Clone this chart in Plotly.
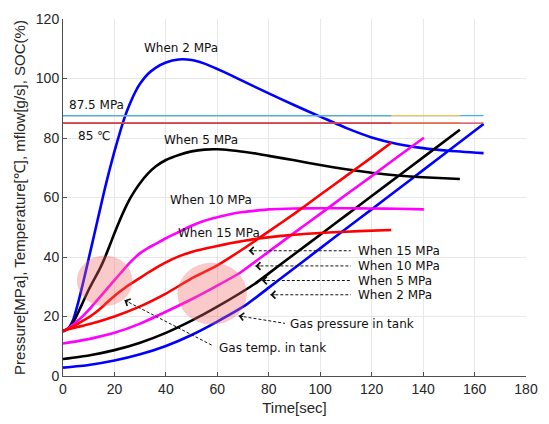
import plotly.graph_objects as go

# ---------------- data ----------------
# Gas pressure in tank [MPa]
t_p2 = [0, 10, 20, 30, 40, 50, 60, 71, 80, 90, 100, 110, 120, 130, 140, 150, 163.5]
p_2 = [2.8, 3.7, 5.2, 7.3, 10.1, 13.8, 18.3, 23.8, 29.7, 36.3, 42.9, 49.5, 56.0, 62.6, 69.2, 75.8, 84.7]

t_p5 = [0, 10, 20, 30, 40, 50, 60, 74.6, 80, 90, 100, 110, 120, 130, 140, 154.3]
p_5 = [5.7, 6.9, 8.7, 11.2, 14.5, 18.6, 23.3, 31.0, 34.5, 41.0, 47.5, 54.0, 60.5, 67.0, 73.5, 82.8]

t_p10 = [0, 10, 20, 30, 40, 50, 60, 69, 80, 90, 100, 110, 120, 130, 140.3]
p_10 = [10.9, 12.4, 14.5, 17.6, 21.6, 25.8, 30.4, 34.8, 41.8, 48.2, 54.5, 60.9, 67.2, 73.6, 80.1]

t_p15 = [0, 10, 20, 30, 40, 50, 60, 70, 80, 90, 100, 110, 120, 127.6]
p_15 = [15.3, 17.4, 20.0, 23.4, 27.7, 32.8, 37.2, 42.7, 48.6, 54.6, 60.9, 67.2, 73.5, 78.4]

# Gas temperature in tank [C]
t_T2 = [0, 2, 4, 6, 8, 10, 12, 14, 16, 18, 20, 22, 24, 26, 28, 30, 33, 36, 40, 45, 50, 55, 60, 65, 70,
        80, 90, 100, 110, 120, 130, 140, 150, 163.5]
T_2 = [15, 16, 19, 25, 32, 39.5, 47, 54.5, 62, 69, 75.5, 81.5, 87, 91.5, 95.3, 98.3, 101.5, 103.6, 105.4,
       106.4, 106.2, 105.0, 103.2, 101.2, 99.1, 95.0, 91.0, 87.2, 83.4, 80.2, 78.0, 76.6, 75.7, 74.9]

t_T5 = [0, 2, 4, 6, 8, 10, 12, 14, 16, 18, 20, 22, 24, 26, 28, 30, 33, 36, 40, 45, 50, 55, 60, 65, 70,
        75, 80, 90, 100, 110, 120, 130, 140, 154.3]
T_5 = [15, 16, 18, 21.5, 25.3, 29, 32.3, 35.5, 39.2, 43.5, 48, 52.2, 56.1, 59.5, 62.4, 64.9, 68.0, 70.4,
       72.6, 74.3, 75.5, 76.1, 76.2, 75.9, 75.4, 74.8, 74.0, 72.5, 70.9, 69.5, 68.3, 67.4, 66.8, 66.2]

t_T10 = [0, 2, 4, 6, 8, 10, 12, 14, 16, 18, 20, 22, 24, 26, 28, 30, 33, 36, 40, 45, 50, 55, 60, 65, 70,
         75, 80, 90, 100, 110, 120, 130, 140.3]
T_10 = [15, 16, 17.3, 18.8, 20.4, 22.2, 24.2, 26.2, 28.2, 30.2, 32.2, 34.2, 36.2, 38.1, 39.8, 41.3, 43.0,
        44.4, 46.3, 48.4, 50.5, 52.2, 53.4, 54.4, 55.1, 55.6, 56.0, 56.3, 56.4, 56.4, 56.3, 56.2, 56.0]

t_T15 = [0, 2, 4, 6, 8, 10, 12, 14, 16, 18, 20, 22, 24, 26, 28, 30, 33, 36, 40, 45, 50, 55, 60, 65, 70,
         76, 85, 95, 105, 115, 127.6]
T_15 = [15, 15.8, 16.7, 17.7, 18.7, 19.7, 20.9, 22.3, 23.8, 25.4, 26.9, 28.3, 29.6, 30.8, 31.9, 33, 34.7,
        36.3, 38.2, 40.2, 41.7, 42.8, 43.7, 44.6, 45.4, 46.2, 47.1, 47.8, 48.3, 48.7, 49.1]

# Limit lines
limit_pressure = 87.5
limit_temp = 85
case_end_times = [163.5, 154.3, 127.6]

x_ticks = [0, 20, 40, 60, 80, 100, 120, 140, 160, 180]
y_ticks = [0, 20, 40, 60, 80, 100, 120]

# ---------------- figure ----------------
fig = go.Figure()

LW = 2.6
for tt, yy, col in [
    (t_T2, T_2, "#0000FF"), (t_p2, p_2, "#0000FF"),
    (t_T5, T_5, "#000000"), (t_p5, p_5, "#000000"),
    (t_T10, T_10, "#FF00FF"), (t_p10, p_10, "#FF00FF"),
    (t_T15, T_15, "#FF0000"), (t_p15, p_15, "#FF0000"),
]:
    fig.add_trace(go.Scatter(x=tt, y=yy, mode="lines",
                             line=dict(color=col, width=LW, shape="spline", smoothing=0.5),
                             showlegend=False, hoverinfo="skip"))

# limit lines (drawn per case, later ones on top)
lim_cols_p = ["#4DAEE8", "#F5C255", "#4DAEE8"]
lim_cols_t = ["#C8374F", "#E8733A", "#C8374F"]
for tend, cp, ct in zip(case_end_times, lim_cols_p, lim_cols_t):
    fig.add_trace(go.Scatter(x=[0, tend], y=[limit_pressure, limit_pressure], mode="lines",
                             line=dict(color=cp, width=1.2), showlegend=False, hoverinfo="skip"))
    fig.add_trace(go.Scatter(x=[0, tend], y=[limit_temp, limit_temp], mode="lines",
                             line=dict(color=ct, width=1.2), showlegend=False, hoverinfo="skip"))

# translucent highlight circles
circle_fill = "rgba(240,100,100,0.35)"
fig.add_shape(type="circle", xref="x", yref="y", x0=5.4, x1=27.0, y0=23.5, y1=40.5,
              fillcolor=circle_fill, line=dict(width=0), layer="above")
fig.add_shape(type="circle", xref="x", yref="y", x0=44.5, x1=71.5, y0=17.3, y1=38.1,
              fillcolor=circle_fill, line=dict(width=0), layer="above")

TXT_FONT = dict(family="DejaVu Sans, sans-serif", size=12, color="#111111")

# curve labels
labels = [
    ("When 2 MPa", 45.8, 110.2),
    ("When 5 MPa", 53.5, 79.3),
    ("When 10 MPa", 57.4, 59.2),
    ("When 15 MPa", 60.6, 48.2),
    ("87.5 MPa", 13.2, 91.0),
    ("85 ℃", 12.1, 80.7),
]
for txt, x, y in labels:
    fig.add_annotation(x=x, y=y, text=txt, showarrow=False, font=TXT_FONT,
                       xanchor="center", yanchor="middle")

# dashed pointer arrows: (text, text_x, text_y, head_x, head_y, tail_x, tail_y)
pointers = [
    ("When 15 MPa", 114.1, 42.1, 72.2, 42.1, 111.9, 42.1),
    ("When 10 MPa", 114.1, 37.0, 74.8, 37.0, 111.9, 37.0),
    ("When 5 MPa", 114.1, 32.1, 77.3, 32.1, 111.9, 32.1),
    ("When 2 MPa", 114.1, 27.3, 80.6, 27.3, 111.9, 27.3),
    ("Gas pressure in tank", 87.4, 17.5, 68.3, 20.2, 86.3, 17.7),
    ("Gas temp. in tank", 60.0, 9.35, 23.9, 25.5, 58.0, 10.3),
]
for txt, tx, ty, hx, hy, sx, sy in pointers:
    fig.add_annotation(x=tx, y=ty, text=txt, showarrow=False, font=TXT_FONT,
                       xanchor="left", yanchor="middle")
    fig.add_shape(type="line", xref="x", yref="y", x0=hx, y0=hy, x1=sx, y1=sy,
                  line=dict(color="#111111", width=1, dash="3px,2px"), layer="above")
    # arrow head only
    dx, dy = sx - hx, sy - hy
    norm = ((dx / 180 * 465) ** 2 + (dy / 120 * 364) ** 2) ** 0.5
    k = 6.0 / norm
    fig.add_annotation(x=hx, y=hy, ax=hx + dx * k, ay=hy + dy * k, axref="x", ayref="y",
                       xref="x", yref="y", text="", showarrow=True,
                       arrowhead=4, arrowsize=1.5, arrowwidth=1, arrowcolor="#111111")

AX_COL = "#4d4d4d"
fig.update_xaxes(range=[0, 180], tickvals=x_ticks, showgrid=True, gridcolor="#e8e8e8",
                 gridwidth=1, zeroline=False, showline=True, linecolor=AX_COL, linewidth=1,
                 ticks="inside", ticklen=4, tickcolor=AX_COL,
                 tickfont=dict(family="Liberation Sans, Arial", size=14, color="#262626"),
                 title=dict(text="Time[sec]", standoff=6,
                            font=dict(family="Liberation Sans, Arial", size=15, color="#262626")))
fig.update_yaxes(range=[0, 120], tickvals=y_ticks, showgrid=True, gridcolor="#e8e8e8",
                 gridwidth=1, zeroline=False, showline=True, linecolor=AX_COL, linewidth=1,
                 ticks="inside", ticklen=4, tickcolor=AX_COL,
                 tickfont=dict(family="Liberation Sans, Arial", size=14, color="#262626"),
                 title=dict(text="Pressure[MPa], Temperature[℃], mflow[g/s], SOC(%)", standoff=6,
                            font=dict(family="Liberation Sans, Arial", size=15, color="#262626")))

fig.update_layout(width=549, height=424, margin=dict(l=63, r=20, t=11, b=48),
                  plot_bgcolor="white", paper_bgcolor="white", showlegend=False)

fig.write_html("out.html")
